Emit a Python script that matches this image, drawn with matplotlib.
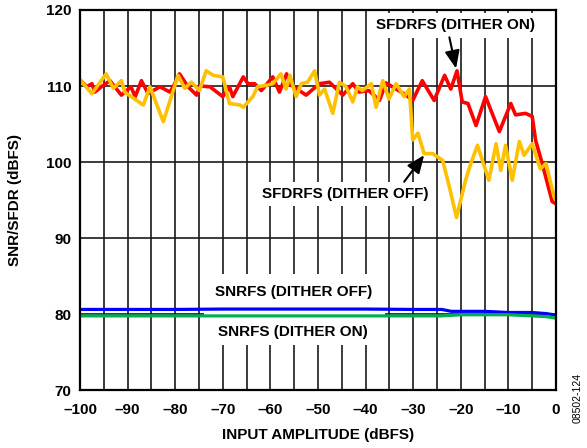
import matplotlib
matplotlib.use("Agg")
import matplotlib.pyplot as plt
from matplotlib.patches import Rectangle

plt.rcParams['font.family'] = ['Liberation Sans', 'DejaVu Sans']
plt.rcParams['font.weight'] = 'bold'

# SFDR, dither on (red)
sfdr_on_x = [-100, -98.6, -97.5, -96.9, -95.3, -93.7, -91.3, -89.3, -88.4, -87.1, -85.7,
             -83.2, -81.1, -80.1, -79.1, -77.3, -75.5, -74.8, -72.7, -70.0, -68.6, -67.9,
             -65.7, -64.7, -63.3, -61.9, -59.5, -58.1, -56.6, -55.6, -52.5, -49.7, -47.6,
             -44.8, -42.7, -41.4, -39.3, -37.1, -35.7, -33.6, -31.5, -30.1, -28.1, -25.6,
             -23.4, -22.1, -20.8, -19.7, -18.5, -16.8, -14.8, -11.9, -9.5, -8.5, -6.4,
             -5.0, -4.3, -2.9, -0.8, 0]
sfdr_on_y = [110.8, 109.9, 110.3, 109.2, 110.0, 110.7, 108.8, 109.9, 108.6, 110.7, 109.0,
             109.9, 109.2, 110.3, 111.6, 109.9, 108.8, 110.0, 109.9, 108.6, 109.9, 108.6,
             111.2, 110.3, 110.3, 109.4, 111.2, 109.2, 111.6, 110.1, 108.8, 110.3, 110.5,
             108.8, 110.3, 109.2, 109.4, 108.1, 110.4, 109.6, 108.8, 108.1, 110.7, 108.1,
             111.4, 109.6, 112.0, 107.9, 107.7, 104.8, 108.6, 104.0, 107.7, 106.2, 106.4,
             106.0, 102.9, 99.8, 94.8, 94.5]

# SFDR, dither off (yellow)
sfdr_off_x = [-100, -97.5, -94.5, -93.0, -91.3, -90.6, -86.7, -85.3, -82.5, -79.4, -78.0,
              -76.6, -74.9, -73.5, -72.0, -70.0, -68.6, -66.4, -65.7, -63.7, -62.7, -60.8,
              -59.5, -57.8, -56.7, -55.9, -54.6, -53.5, -52.2, -50.7, -49.7, -48.6, -46.9,
              -45.5, -44.1, -42.7, -41.7, -40.7, -38.8, -37.8, -36.4, -35.1, -33.6, -31.9,
              -30.8, -30.1, -29.0, -27.7, -25.9, -23.8, -22.4, -20.9, -19.0, -17.9, -16.5,
              -14.1, -12.6, -11.6, -10.6, -9.2, -7.7, -6.7, -5.0, -3.3, -2.1, -0.4, 0]
sfdr_off_y = [110.8, 109.0, 111.6, 109.7, 110.7, 109.2, 107.5, 109.9, 105.3, 111.4, 109.7,
              110.5, 109.4, 112.0, 111.4, 111.2, 107.7, 107.5, 107.2, 108.6, 109.9, 110.1,
              110.3, 111.6, 109.6, 111.4, 108.6, 110.3, 110.5, 112.0, 108.8, 109.6, 106.4,
              110.5, 109.9, 107.9, 109.9, 109.4, 110.3, 107.2, 110.7, 108.3, 110.3, 108.6,
              109.6, 102.9, 103.8, 101.1, 101.1, 100.2, 96.7, 92.7, 97.6, 99.8, 102.2,
              97.6, 102.4, 98.9, 102.2, 97.6, 102.7, 100.9, 102.4, 99.1, 99.8, 95.4, 95.0]

# SNR, dither off (blue)
snr_off_x = [-100, -90, -80, -70, -60, -50, -40, -30, -24, -22, -15, -10, -5, -2, 0]
snr_off_y = [80.6, 80.6, 80.6, 80.65, 80.65, 80.65, 80.65, 80.6, 80.6, 80.35, 80.35,
             80.2, 80.2, 80.05, 79.85]

# SNR, dither on (green)
snr_on_x = [-100, -90, -80, -70, -60, -50, -40, -30, -24, -20, -10, -5, -2, 0]
snr_on_y = [79.75, 79.75, 79.75, 79.75, 79.75, 79.75, 79.75, 79.75, 79.75, 79.9, 79.9,
            79.75, 79.65, 79.45]

x_ticks = [-100, -90, -80, -70, -60, -50, -40, -30, -20, -10, 0]
x_tick_labels = ['–100', '–90', '–80', '–70', '–60', '–50', '–40', '–30', '–20', '–10', '0']
y_ticks = [70, 80, 90, 100, 110, 120]

fig = plt.figure(figsize=(5.87, 4.48), dpi=100)
ax = fig.add_axes([80 / 587, 1 - 390 / 448, (556 - 80) / 587, (390 - 10) / 448])

ax.set_xlim(-100, 0)
ax.set_ylim(70, 120)

# grid
for gx in range(-95, 0, 5):
    ax.axvline(gx, color='#1a1a1a', lw=1.2, zorder=1)
for gy in [80, 90, 100, 110]:
    ax.axhline(gy, color='#1a1a1a', lw=1.2, zorder=1)

# white box behind SNR labels
ax.add_patch(Rectangle((-74, 75.9), 38, 9.3, facecolor='white', edgecolor='none', zorder=2))

ax.plot(sfdr_on_x, sfdr_on_y, color='#FF0000', lw=2.6, zorder=3, solid_joinstyle='round')
ax.plot(sfdr_off_x, sfdr_off_y, color='#FFC000', lw=2.6, zorder=3.1, solid_joinstyle='round')
ax.plot(snr_off_x, snr_off_y, color='#0000FF', lw=2.3, zorder=3)
ax.plot(snr_on_x, snr_on_y, color='#00B050', lw=2.3, zorder=3)

fs = 11
ax.text(-21.2, 118.0, 'SFDRFS (DITHER ON)', ha='center', va='center', fontsize=fs,
        fontweight='bold', zorder=5,
        bbox=dict(boxstyle='square,pad=0.35', facecolor='white', edgecolor='none'))
ax.text(-44.3, 95.8, 'SFDRFS (DITHER OFF)', ha='center', va='center', fontsize=fs,
        fontweight='bold', zorder=5,
        bbox=dict(boxstyle='square,pad=0.35', facecolor='white', edgecolor='none'))
ax.text(-55.2, 82.9, 'SNRFS (DITHER OFF)', ha='center', va='center', fontsize=fs,
        fontweight='bold', zorder=5)
ax.text(-55.2, 77.6, 'SNRFS (DITHER ON)', ha='center', va='center', fontsize=fs,
        fontweight='bold', zorder=5)

ax.annotate('', xy=(-21.0, 112.3), xytext=(-22.4, 116.4),
            arrowprops=dict(arrowstyle='-|>,head_length=0.6,head_width=0.25', color='black',
                            lw=1.5, mutation_scale=18, shrinkA=0, shrinkB=0), zorder=6)
ax.annotate('', xy=(-27.7, 100.9), xytext=(-31.9, 97.4),
            arrowprops=dict(arrowstyle='-|>,head_length=0.6,head_width=0.25', color='black',
                            lw=1.5, mutation_scale=18, shrinkA=0, shrinkB=0), zorder=6)

ax.set_xticks(x_ticks)
ax.set_xticklabels(x_tick_labels)
ax.set_yticks(y_ticks)
ax.tick_params(axis='both', length=0, labelsize=fs)
ax.tick_params(axis='x', pad=9)
ax.tick_params(axis='y', pad=6)
for lab in ax.get_xticklabels() + ax.get_yticklabels():
    lab.set_fontweight('bold')

for sp in ax.spines.values():
    sp.set_linewidth(1.6)
    sp.set_color('black')
    sp.set_zorder(7)

fig.text(318 / 587, 1 - 435 / 448, 'INPUT AMPLITUDE (dBFS)', ha='center', va='center',
         fontsize=fs, fontweight='bold')
fig.text(15 / 587, 1 - 200 / 448, 'SNR/SFDR (dBFS)', ha='center', va='center',
         rotation=90, fontsize=fs, fontweight='bold')
fig.text(578 / 587, 1 - 398 / 448, '08502-124', ha='center', va='center', rotation=90,
         fontsize=7.5, fontweight='normal')

fig.savefig('out.png', dpi=100)
